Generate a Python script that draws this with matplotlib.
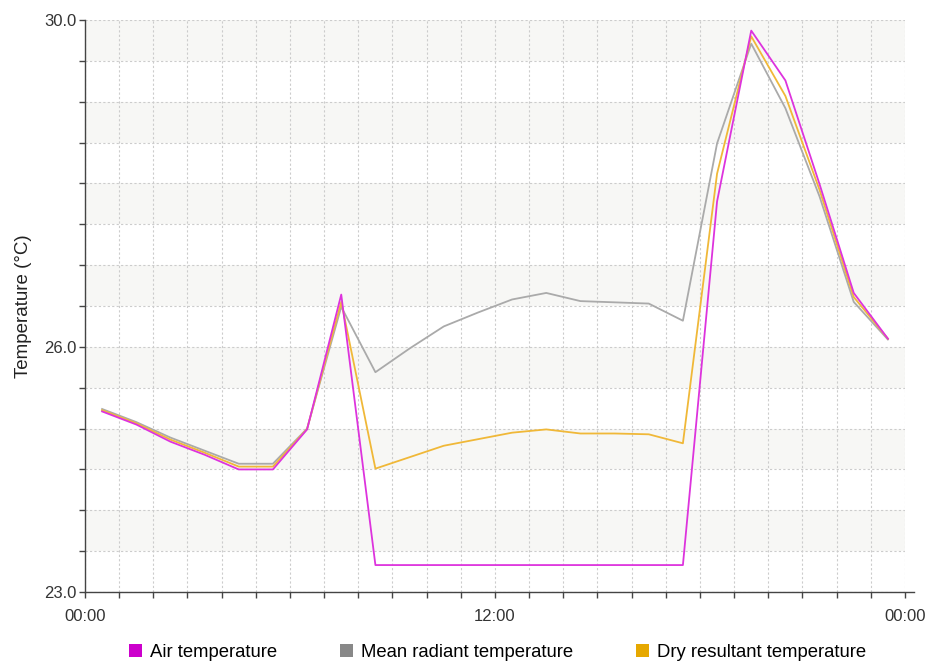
import matplotlib
matplotlib.use('Agg')
import matplotlib.pyplot as plt
from matplotlib.patches import Patch

plt.rcParams['font.family'] = ['Liberation Sans', 'DejaVu Sans']

# hourly values, plotted at the half hour
hours = [0.5, 1.5, 2.5, 3.5, 4.5, 5.5, 6.5, 7.5, 8.5, 9.5, 10.5, 11.5,
         12.5, 13.5, 14.5, 15.5, 16.5, 17.5, 18.5, 19.5, 20.5, 21.5, 22.5, 23.5]
air_temp = [25.21, 25.05, 24.84, 24.68, 24.50, 24.50, 24.99, 26.64, 23.33, 23.33, 23.33, 23.33,
            23.33, 23.33, 23.33, 23.33, 23.33, 23.33, 27.78, 29.87, 29.26, 27.99, 26.66, 26.10]
mean_radiant = [25.24, 25.08, 24.89, 24.73, 24.57, 24.57, 25.00, 26.49, 25.69, 25.98, 26.25, 26.42,
                26.58, 26.66, 26.56, 26.545, 26.53, 26.32, 28.49, 29.71, 28.92, 27.84, 26.55, 26.09]
dry_resultant = [25.225, 25.065, 24.865, 24.705, 24.535, 24.535, 24.995, 26.55, 24.51, 24.65, 24.79, 24.87,
                 24.95, 24.99, 24.94, 24.94, 24.93, 24.82, 28.12, 29.80, 29.07, 27.92, 26.61, 26.10]

series_names = ['Air temperature', 'Mean radiant temperature', 'Dry resultant temperature']
legend_colors = ['#cc00cc', '#888888', '#e6a800']
line_colors = ['#dd33dd', '#aaaaaa', '#f0b838']

y_min, y_max = 23.0, 30.0
y_labels = {23.0: '23.0', 26.0: '26.0', 30.0: '30.0'}
x_labels = {0: '00:00', 12: '12:00', 24: '00:00'}

fig = plt.figure(figsize=(9.3, 6.62), dpi=100)
ax = fig.add_axes([0.0914, 0.1057, 0.8817, 0.8641])

# alternating background bands
band = y_min + 0.5
while band < y_max:
    ax.axhspan(band, band + 0.5, color='#f7f7f5', lw=0, zorder=0)
    band += 1.0

ax.set_xlim(0, 24)
ax.set_ylim(y_min, y_max)

yticks = [y_min + 0.5 * i for i in range(int((y_max - y_min) / 0.5) + 1)]
ax.set_yticks(yticks)
ax.set_yticklabels([y_labels.get(t, '') for t in yticks])
xticks = list(range(0, 25))
ax.set_xticks(xticks)
ax.set_xticklabels([x_labels.get(t, '') for t in xticks])

ax.grid(True, linestyle=(0, (2, 2)), color='#cccccc', linewidth=0.8, zorder=1)
ax.set_axisbelow(True)

for s in ['top', 'right']:
    ax.spines[s].set_visible(False)
for s in ['left', 'bottom']:
    ax.spines[s].set_color('#444444')
    ax.spines[s].set_linewidth(1.0)
ax.spines['bottom'].set_bounds(0, 24.25)
ax.tick_params(axis='both', direction='out', length=4, width=1, color='#444444',
               labelsize=12, labelcolor='#333333')
ax.tick_params(axis='x', pad=8)
ax.tick_params(axis='y', pad=2)

ax.plot(hours, mean_radiant, color=line_colors[1], lw=1.3, zorder=3)
ax.plot(hours, dry_resultant, color=line_colors[2], lw=1.3, zorder=4)
ax.plot(hours, air_temp, color=line_colors[0], lw=1.3, zorder=5)

ax.set_ylabel('Temperature (°C)', fontsize=13.5, color='#222222', labelpad=9)

handles = [Patch(facecolor=c, edgecolor='none') for c in legend_colors]
fig.legend(handles, series_names, loc='center', ncol=3, frameon=False,
           fontsize=13.3, handlelength=0.7, handleheight=0.7, handletextpad=0.45,
           columnspacing=3.4, bbox_to_anchor=(0.535, 0.015))

plt.savefig('out.png', dpi=100)
